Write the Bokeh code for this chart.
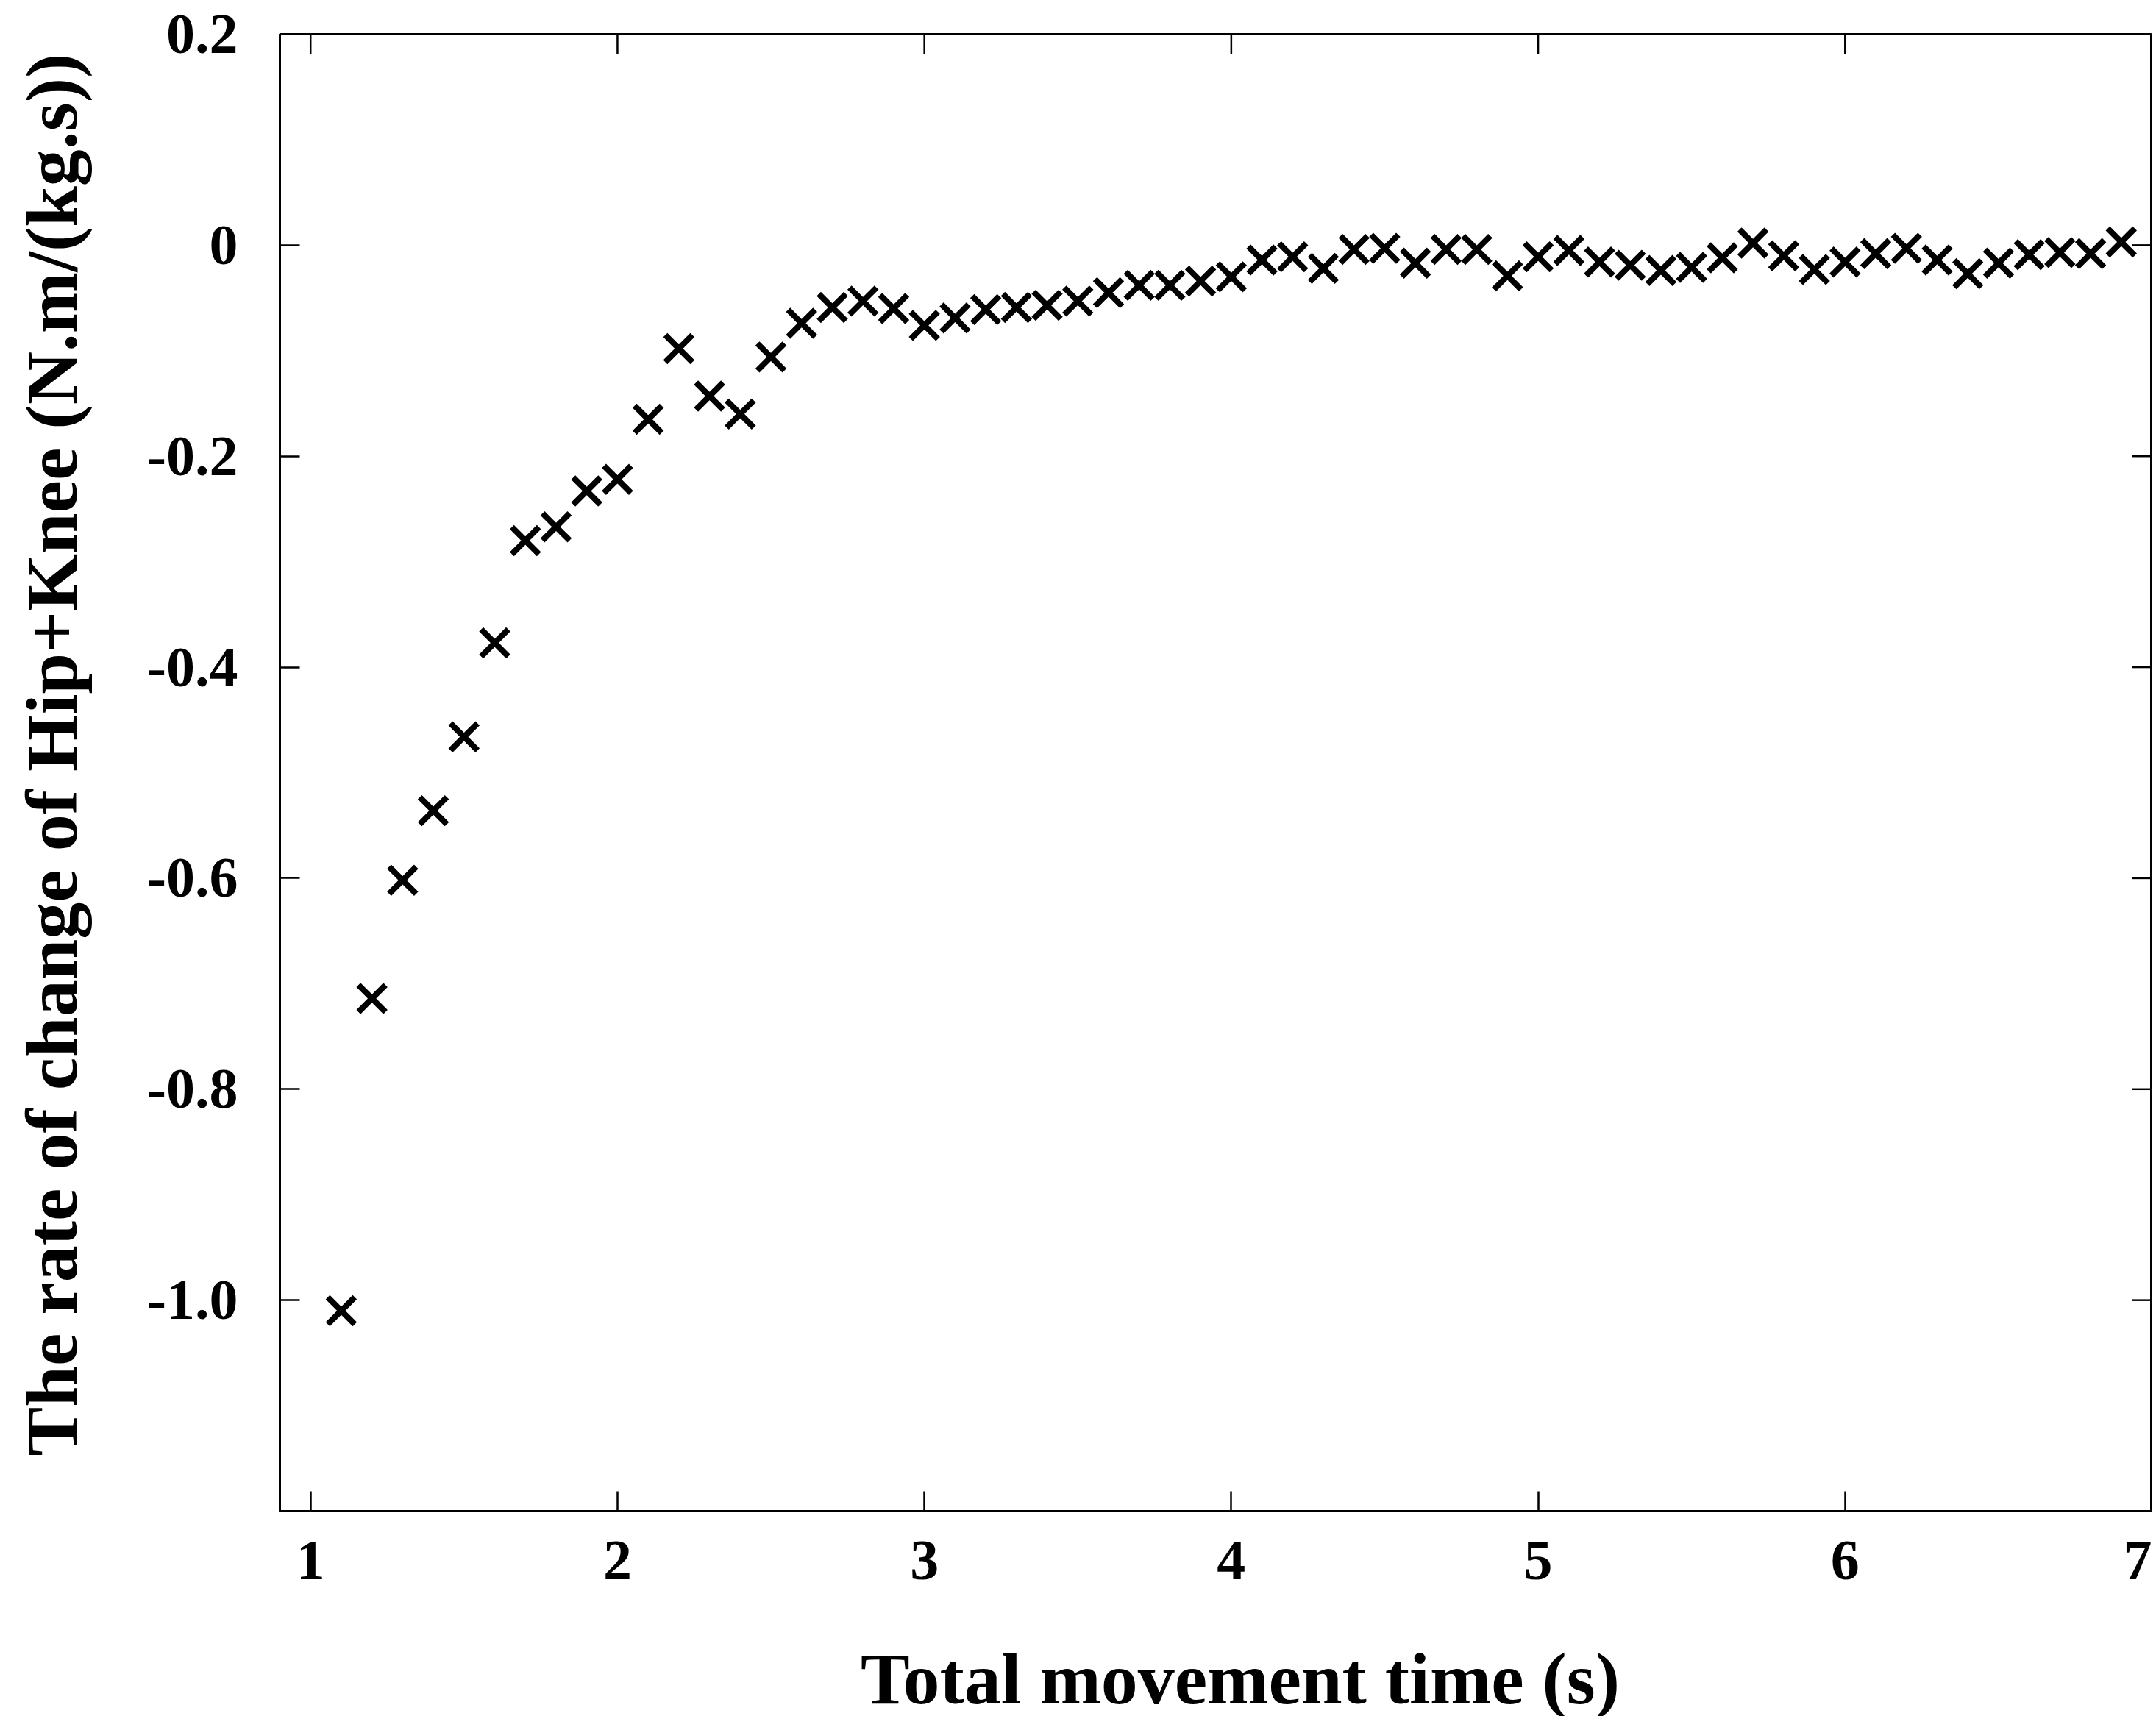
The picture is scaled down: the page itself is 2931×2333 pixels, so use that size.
import math
import html
from bokeh.plotting import figure
from bokeh.models import (Range1d, FixedTicker, ColumnDataSource, CustomJSTickFormatter, Div)
from bokeh.layouts import row, column
from bokeh.embed import file_html
from bokeh.resources import INLINE

# Data
time_s = [1.1, 1.2, 1.3, 1.4, 1.5, 1.6, 1.7, 1.8, 1.9, 2.0,
          2.1, 2.2, 2.3, 2.4, 2.5, 2.6, 2.7, 2.8, 2.9, 3.0,
          3.1, 3.2, 3.3, 3.4, 3.5, 3.6, 3.7, 3.8, 3.9, 4.0,
          4.1, 4.2, 4.3, 4.4, 4.5, 4.6, 4.7, 4.8, 4.9, 5.0,
          5.1, 5.2, 5.3, 5.4, 5.5, 5.6, 5.7, 5.8, 5.9, 6.0,
          6.1, 6.2, 6.3, 6.4, 6.5, 6.6, 6.7, 6.8, 6.9]
rate = [-1.010, -0.714, -0.602, -0.536, -0.466, -0.377, -0.280, -0.267, -0.233, -0.222,
        -0.165, -0.098, -0.143, -0.160, -0.106, -0.074, -0.059, -0.053, -0.060, -0.076,
        -0.069, -0.061, -0.059, -0.057, -0.053, -0.045, -0.038, -0.038, -0.034, -0.030,
        -0.014, -0.011, -0.022, -0.004, -0.003, -0.017, -0.004, -0.004, -0.029, -0.011,
        -0.005, -0.016, -0.019, -0.024, -0.021, -0.012, 0.002, -0.010, -0.023, -0.016,
        -0.008, -0.003, -0.014, -0.027, -0.017, -0.009, -0.007, -0.008, 0.003]

x_ticks = [1, 2, 3, 4, 5, 6, 7]
x_tick_labels = ["1", "2", "3", "4", "5", "6", "7"]
y_ticks = [0.2, 0.0, -0.2, -0.4, -0.6, -0.8, -1.0]
y_tick_labels = ["0.2", "0", "-0.2", "-0.4", "-0.6", "-0.8", "-1.0"]

x_title = "Total movement time (s)"
y_title = "The rate of change of Hip+Knee (N.m/(kg.s))"

X_MIN, X_MAX = 0.9, 7.0
Y_MIN, Y_MAX = -1.2, 0.2

FONT = "Liberation Serif"
TICK_LEN = 27

TOTAL_W = 2915
YDIV_W = 160
PLOT_H = 2204
XDIV_H = 113

p = figure(width=TOTAL_W - YDIV_W, height=PLOT_H, output_backend="svg", toolbar_location=None,
           x_range=Range1d(X_MIN, X_MAX), y_range=Range1d(Y_MIN, Y_MAX),
           min_border_left=210, min_border_right=0, min_border_top=46, min_border_bottom=150)

p.outline_line_color = "black"
p.outline_line_width = 3
p.xgrid.visible = False
p.ygrid.visible = False

lookup_code = """
let best = 0, dist = Infinity;
for (let i = 0; i < vals.length; i++) {
  const d = Math.abs(vals[i] - tick);
  if (d < dist) { dist = d; best = i; }
}
return labs[best];
"""

def style_axis(ax, ticks, labels, standoff):
    ax.ticker = FixedTicker(ticks=ticks)
    ax.formatter = CustomJSTickFormatter(args=dict(vals=list(ticks), labs=list(labels)),
                                         code=lookup_code)
    ax.axis_line_color = "black"
    ax.axis_line_width = 3
    ax.major_tick_in = TICK_LEN
    ax.major_tick_out = 0
    ax.major_tick_line_width = 2.5
    ax.major_tick_line_color = "black"
    ax.minor_tick_line_color = None
    ax.major_label_text_font = FONT
    ax.major_label_text_font_style = "bold"
    ax.major_label_text_font_size = "78px"
    ax.major_label_text_color = "black"
    ax.major_label_standoff = standoff

style_axis(p.xaxis[0], x_ticks, x_tick_labels, 41)
style_axis(p.yaxis[0], y_ticks, y_tick_labels, 57)

# inward ticks mirrored on the top and right frame edges
p.ray(x=x_ticks, y=[Y_MAX] * len(x_ticks), length=TICK_LEN, length_units="screen",
      angle=-math.pi / 2, line_color="black", line_width=2.5)
p.ray(x=[X_MAX] * len(y_ticks), y=y_ticks, length=TICK_LEN, length_units="screen",
      angle=math.pi, line_color="black", line_width=2.5)

src = ColumnDataSource(data=dict(x=time_s, y=rate))
p.scatter("x", "y", source=src, marker="x", size=52, line_width=8, line_color="black")

# axis titles as HTML text beside and below the plot
title_css = ("font-family:'Liberation Serif',serif;font-weight:bold;font-size:100px;"
             "line-height:100px;color:black;white-space:nowrap;")
ydiv = Div(width=YDIV_W, height=PLOT_H, text=(
    f'<div style="position:relative;width:{YDIV_W}px;height:{PLOT_H}px;">'
    f'<div style="position:absolute;left:66px;top:1021px;{title_css}'
    f'transform:translate(-50%,-50%) rotate(-90deg);">{html.escape(y_title)}</div></div>'))
xdiv = Div(width=TOTAL_W, height=XDIV_H, text=(
    f'<div style="position:relative;width:{TOTAL_W}px;height:{XDIV_H}px;">'
    f'<div style="position:absolute;left:1681px;top:14px;{title_css}'
    f'transform:translateX(-50%);">{html.escape(x_title)}</div></div>'))

layout = column(row(ydiv, p, spacing=0), xdiv, spacing=0)

open("out.html", "w").write(file_html(layout, INLINE))
